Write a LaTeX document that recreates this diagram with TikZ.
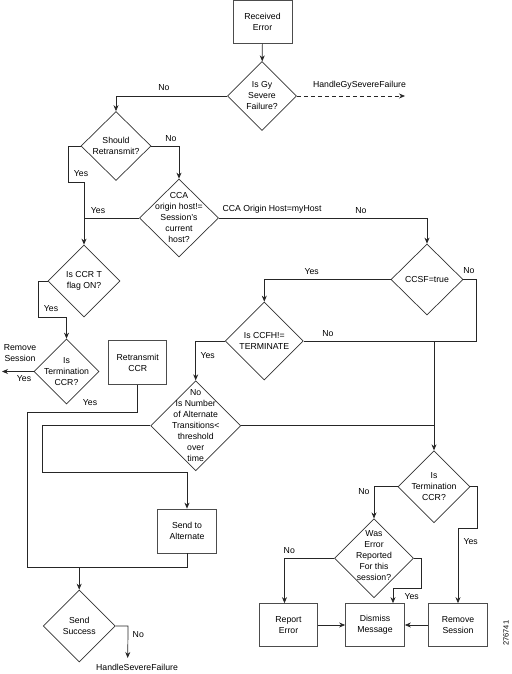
\documentclass[tikz,border=0pt]{standalone}
\usepackage{fontspec}
\setmainfont{Liberation Sans}
\usetikzlibrary{shapes.geometric,arrows.meta}

\begin{document}
\begin{tikzpicture}
      [x=1pt,y=-1pt,line width=0.7pt,draw=black!85,
       every node/.style={font=\fontsize{8.7}{11}\selectfont,align=center,inner sep=0pt},
       box/.style={rectangle,draw=black!70,minimum width=59pt,minimum height=43pt},
       decision/.style={diamond,draw=black!80},
       arr/.style={-{Stealth[length=6pt,width=5pt]}}]
        \useasboundingbox (0,0) rectangle (511,674);

        % boxes and decisions
        \node[box] (recv) at (262.5,21.8) {Received\\Error};
        \node[decision,minimum width=69pt,minimum height=69pt] (gy) at (262,96) {};
        \node (gytxt) at (gy) {Is Gy\\Severe\\Failure?};
        \node[decision,minimum width=70pt,minimum height=69pt] (should) at (116,146) {};
        \node (shouldtxt) at (should) {Should\\Retransmit?};
        \node[decision,minimum width=79pt,minimum height=78pt] (cca) at (179,218) {};
        \node (ccatxt) at (cca) {CCA\\origin host!=\\Session's\\current\\host?};
        \node[decision,minimum width=72pt,minimum height=72pt] (ccrt) at (84,281) {};
        \node (ccrttxt) at (ccrt) {Is CCR T\\flag ON?};
        \node[decision,minimum width=65pt,minimum height=65pt] (termL) at (66.5,371.5) {};
        \node (termLtxt) at (termL) {Is\\Termination\\CCR?};
        \node[box,minimum width=58pt,minimum height=44pt] (retx) at (137.7,362.5) {Retransmit\\CCR};
        \node[decision,minimum width=72pt,minimum height=71pt] (ccsf) at (427,279.5) {};
        \node (ccsftxt) at (ccsf) {CCSF=true};
        \node[decision,minimum width=78pt,minimum height=78pt] (ccfh) at (264.3,341) {};
        \node (ccfhtxt) at (ccfh) {Is CCFH!=\\TERMINATE};
        \node[decision,minimum width=90pt,minimum height=90pt] (num) at (195.7,425.7) {};
        \node (numtxt) at (num) {No\\Is Number\\of Alternate\\Transitions<\\threshold\\over\\time};
        \node[box,minimum height=44pt] (alt) at (187,531) {Send to\\Alternate};
        \node[decision,minimum width=72pt,minimum height=72pt] (succ) at (79.2,626) {};
        \node (succtxt) at (succ) {Send\\Success};
        \node[decision,minimum width=72pt,minimum height=72pt] (termR) at (434,486.7) {};
        \node (termRtxt) at (termR) {Is\\Termination\\CCR?};
        \node[decision,minimum width=79pt,minimum height=79pt] (was) at (374,558.3) {};
        \node (wastxt) at ([yshift=3pt]was) {Was\\Error\\Reported\\For this\\session?};
        \node[box,minimum width=58pt] (rep) at (288.5,625) {Report\\Error};
        \node[box] (dis) at (375,625) {Dismiss\\Message};
        \node[box] (rem) at (458,625) {Remove\\Session};

        \coordinate (gyend) at (405,96);
        \coordinate (rmend) at (2,371.5);
        \coordinate (leftc) at (27.7,567.7);
        \coordinate (sfend) at (127.7,658);

        % connectors
        \draw[arr] (recv) -- (gy);
        \draw[arr,dash pattern=on 4pt off 3pt] (gy.east) -- (gyend);
        \draw[arr] (gy.west) -| (should.north);
        \draw[arr] (should.east) -| (cca.north);
        \draw[arr] (should.west) -- ++(-12,0) -- ++(0,36) -| (ccrt.north);
        \draw (cca.west) -- (cca.west -| ccrt.north);
        \draw[arr] (cca.east) -| (ccsf.north);
        \draw[arr] (ccrt.west) -- ++(-9,0) -- ++(0,36) -| (termL.north);
        \draw[arr] (termL.west) -- (rmend);
        \draw (retx.south) -- ++(0,27.5) -| (leftc) -| (alt.south);
        \draw[arr] (leftc -| succ.north) -- (succ.north);
        \draw[arr] (num.west) -- ++(-108.4,0) -- ++(0,47) -| (alt.north);
        \draw (num.east) -- (num.east -| termR.north);
        \draw[arr] (ccsf.west) -| (ccfh.north);
        \draw (ccsf.east) -- ++(12.5,0) |- (ccfh.east);
        \draw[arr] (ccfh.east -| termR.north) -- (termR.north);
        \draw[arr] (ccfh.west) -| (num.north);
        \draw[arr] (termR.west) -| (was.north);
        \draw[arr] (termR.east) -- ++(6.7,0) -- ++(0,41.6) -| (rem.north);
        \draw[arr] (was.west) -| ([xshift=-4pt]rep.north);
        \draw[arr] (was.east) -- ++(7.7,0) -- ++(0,30) -| ([xshift=18pt]dis.north);
        \draw[arr] (rep) -- (dis);
        \draw[arr] (rem) -- (dis);
        \draw[arr] (succ.east) -- ++(12.5,0) -- (sfend);

        % labels
        \node (gyfail) at (359.5,85) {HandleGySevereFailure};
        \node (no1) at (164,88) {No};
        \node (no2) at (171,139) {No};
        \node (yes1) at (81,174) {Yes};
        \node (yes2) at (98,211) {Yes};
        \node (myhost) at (272,209) {CCA Origin Host=myHost};
        \node (no3) at (361,211) {No};
        \node (yes3) at (51,309) {Yes};
        \node (rmsess) at (20,352.7) {Remove\\Session};
        \node (yes4) at (24,379) {Yes};
        \node (yes5) at (90,403) {Yes};
        \node (yes6) at (311.7,271.7) {Yes};
        \node (no4) at (469,271) {No};
        \node (no5) at (328,334) {No};
        \node (yes7) at (207.7,356) {Yes};
        \node (no6) at (364,492) {No};
        \node (yes8) at (470.7,541.7) {Yes};
        \node (no7) at (289.3,550.7) {No};
        \node (yes9) at (411.7,596.7) {Yes};
        \node (no8) at (138.3,634.3) {No};
        \node (sevfail) at (137,667.3) {HandleSevereFailure};
        \node[rotate=90,font=\fontsize{7.5}{9}\selectfont] (figno) at (506,633.3) {276741};

      \end{tikzpicture}
\end{document}
